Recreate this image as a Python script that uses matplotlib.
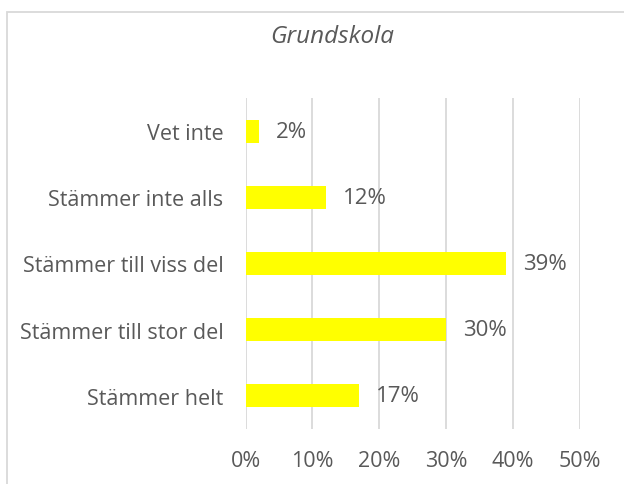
import matplotlib
matplotlib.use("Agg")
import matplotlib.pyplot as plt
from matplotlib.patches import Rectangle

# data, bottom to top as drawn
categories = ["Stämmer helt", "Stämmer till stor del", "Stämmer till viss del",
              "Stämmer inte alls", "Vet inte"]
values = [0.17, 0.30, 0.39, 0.12, 0.02]
ticks = [0, 0.1, 0.2, 0.3, 0.4, 0.5]

txt = "#595959"
plt.rcParams["font.family"] = ["Open Sans", "DejaVu Sans"]

fig = plt.figure(figsize=(6.24, 4.85), dpi=100)
ax = fig.add_axes([245.5 / 624, 1 - 430 / 485, (580 - 245.5) / 624, (430 - 99) / 485])

# chart border (cut by image edge)
fig.patches.append(Rectangle((7 / 624, -0.1), 1.2, 1 - 13 / 485 + 0.1,
                             transform=fig.transFigure, fill=False,
                             edgecolor="#D9D9D9", linewidth=1.3))

y = range(len(categories))
ax.barh(y, values, height=0.35, color="#FFFF00", zorder=3)

for i, v in enumerate(values):
    ax.annotate(f"{v:.0%}", (v, i), xytext=(12, 0), textcoords="offset points",
                va="center", ha="left", fontsize=16, color=txt)

ax.set_xlim(0, 0.5)
ax.set_ylim(-0.5, len(categories) - 0.5)
ax.set_xticks(ticks)
ax.set_xticklabels([f"{t:.0%}" for t in ticks])
ax.set_yticks(list(y))
ax.set_yticklabels(categories)
ax.tick_params(axis="both", length=0, labelsize=15.5, colors=txt)
ax.tick_params(axis="y", pad=16)
ax.tick_params(axis="x", pad=15)
ax.grid(axis="x", color="#D9D9D9", linewidth=1.3, zorder=0)
for s in ax.spines.values():
    s.set_visible(False)

fig.text(332 / 624, 1 - 37 / 485, "Grundskola", ha="center", va="center",
         fontsize=17.5, style="italic", color=txt)

fig.savefig("out.png", dpi=100)
